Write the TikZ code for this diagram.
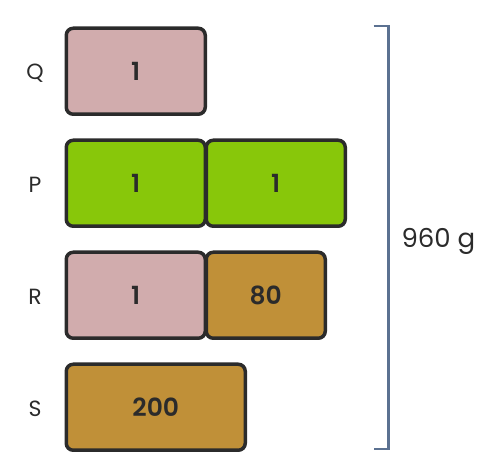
\documentclass[tikz,border=0pt]{standalone}
\usepackage{fontspec}
\setmainfont{Poppins}[BoldFont={Poppins SemiBold}]
\usetikzlibrary{positioning}
\definecolor{BarPink}{HTML}{D1ACAD}
\definecolor{BarGreen}{HTML}{88C70A}
\definecolor{BarGold}{HTML}{C09038}
\definecolor{BarEdge}{HTML}{2B2B2B}
\definecolor{BraceBlue}{HTML}{5B7191}

\tikzset{
    bar/.style={draw=BarEdge, line width=3.5pt, rounded corners=7pt, inner sep=0pt,
        minimum height=86pt, anchor=north west, font=\fontsize{25}{25}\selectfont\bfseries,
        text=BarEdge},
    unit/.style={bar, minimum width=139pt},
    rowname/.style={font=\fontsize{22}{22}\selectfont, text=BarEdge}
}

\begin{document}
\begin{tikzpicture}[x=1pt, y=-1pt]
    \useasboundingbox (0,0) rectangle (499,476);
    % Q
    \node[unit, fill=BarPink] (q1) at (64.5,26.5) {1};
    \node[rowname] (qname) at (35,73) {Q};
    % P
    \node[unit, fill=BarGreen] (p1) at (64.5,138.5) {1};
    \node[unit, fill=BarGreen] (p2) at (204.5,138.5) {1};
    \node[rowname] (pname) at (35,185) {P};
    % R
    \node[unit, fill=BarPink] (r1) at (64.5,250.5) {1};
    \node[bar, fill=BarGold, minimum width=119pt] (r2) at (204.5,250.5) {80};
    \node[rowname] (rname) at (35,297) {R};
    % S
    \node[bar, fill=BarGold, minimum width=179pt] (s1) at (64.5,362.5) {200};
    \node[rowname] (sname) at (35,409) {S};

    % Total
    \coordinate (btop) at (388.5,26);
    \coordinate (bbot) at (388.5,449);
    \draw[BraceBlue, line width=2.5pt] ([xshift=-15pt]btop) -- (btop) -- (bbot) -- ([xshift=-15pt]bbot);
    \node[font=\fontsize{26}{26}\selectfont, text=BarEdge, anchor=west] (total) at (398,241) {960 g};
\end{tikzpicture}
\end{document}
